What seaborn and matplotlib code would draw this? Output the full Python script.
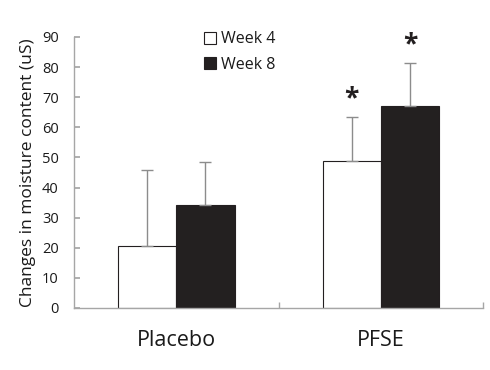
"""Moisture content change by group and week (bar chart with one-sided error bars)."""

import matplotlib.pyplot as plt
import pandas as pd
import seaborn as sns
from matplotlib.lines import Line2D
from matplotlib.ticker import FixedLocator

groups = ["Placebo", "PFSE"]
weeks = ["Week 4", "Week 8"]
week4_mean = [20.7, 48.7]
week8_mean = [34.2, 67.1]
week4_sd = [25.1, 14.7]
week8_sd = [14.2, 14.2]
significant = [[False, True], [False, True]]

BAR_COLORS = {"Week 4": "#ffffff", "Week 8": "#231f20"}
AXIS_GREY = "#a6a6a6"
ERR_GREY = "#8c8c8c"
TEXT = "#1a1a1a"


def build_frame() -> pd.DataFrame:
    rows = []
    for i, g in enumerate(groups):
        rows.append({"group": g, "week": "Week 4", "value": week4_mean[i], "sd": week4_sd[i]})
        rows.append({"group": g, "week": "Week 8", "value": week8_mean[i], "sd": week8_sd[i]})
    return pd.DataFrame(rows)


def main() -> None:
    df = build_frame()
    sns.set_theme(style="white")
    plt.rcParams["font.family"] = ["Open Sans", "DejaVu Sans"]

    fig = plt.figure(figsize=(4.9, 3.7), dpi=100)
    ax = fig.add_axes([0.151, 0.1676, 0.835, 0.7324])

    sns.barplot(
        data=df, x="group", y="value", hue="week", order=groups, hue_order=weeks,
        palette=BAR_COLORS, width=0.57, edgecolor="#231f20", linewidth=0.8,
        errorbar=None, legend=False, ax=ax,
    )

    # one-sided error bars on top of each bar, plus significance stars
    for w_idx, week in enumerate(weeks):
        container = ax.containers[w_idx]
        sds = week4_sd if week == "Week 4" else week8_sd
        for g_idx, patch in enumerate(container.patches):
            xc = patch.get_x() + patch.get_width() / 2
            top = patch.get_height()
            ax.errorbar(
                xc, top, yerr=[[0], [sds[g_idx]]], fmt="none",
                ecolor=ERR_GREY, elinewidth=1.0, capsize=4, capthick=1.0, zorder=3,
            )
            if significant[w_idx][g_idx]:
                ax.text(xc, top + sds[g_idx] + 6.0, "*", ha="center", va="center",
                        fontsize=19, fontweight="bold", color="#231f20")

    ax.set_ylim(0, 90)
    ax.set_xlim(-0.5, 1.5)
    ax.set_yticks(range(0, 91, 10))
    ax.tick_params(axis="y", direction="in", length=4, color=AXIS_GREY,
                   labelsize=10.5, labelcolor=TEXT, pad=11, left=True)
    ax.tick_params(axis="x", which="major", length=0, labelsize=15.5,
                   labelcolor=TEXT, pad=16)
    ax.xaxis.set_minor_locator(FixedLocator([0.5, 1.5]))
    ax.tick_params(axis="x", which="minor", direction="in", length=4,
                   color=AXIS_GREY, bottom=True)
    ax.set_xlabel("")
    ax.set_ylabel("Changes in moisture content (uS)", fontsize=12.5,
                  color=TEXT, labelpad=4)

    sns.despine(ax=ax)
    for side in ("left", "bottom"):
        ax.spines[side].set_color(AXIS_GREY)
        ax.spines[side].set_linewidth(1.0)

    handles = [
        Line2D([], [], marker="s", linestyle="none", markersize=9,
               markerfacecolor=BAR_COLORS[w], markeredgecolor="#231f20",
               markeredgewidth=0.8, label=w)
        for w in weeks
    ]
    leg = ax.legend(handles=handles, loc="upper left", bbox_to_anchor=(0.30, 1.045),
                    frameon=False, fontsize=11.5, handlelength=0.8, handletextpad=0.3,
                    labelspacing=0.6, borderaxespad=0)
    for t in leg.get_texts():
        t.set_color(TEXT)

    fig.savefig("out.png", dpi=100)


if __name__ == "__main__":
    main()
